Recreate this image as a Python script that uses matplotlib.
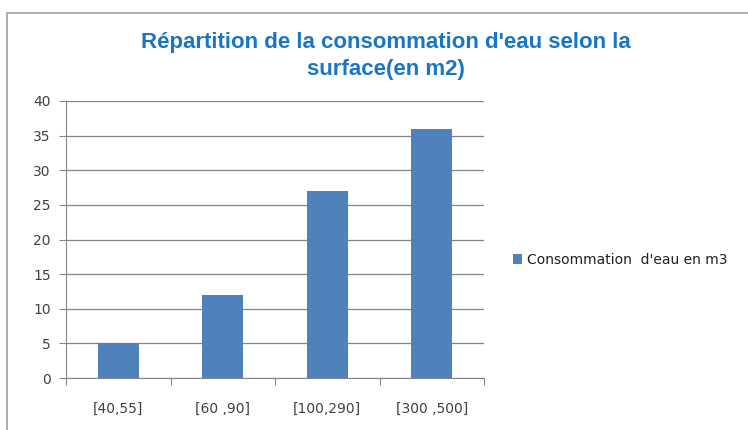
import matplotlib.pyplot as plt
import numpy as np
from matplotlib.patches import Rectangle

categories = ['[40,55]', '[60 ,90]', '[100,290]', '[300 ,500]']
values = [5, 12, 27, 36]
series_name = 'Consommation  d\'eau en m3'
title = "Répartition de la consommation d'eau selon la\nsurface(en m2)"

fig = plt.figure(figsize=(7.48, 4.30), dpi=100)
ax = fig.add_axes([66 / 748, 1 - 378 / 430, (484 - 66) / 748, (378 - 101) / 430])

x = np.arange(len(categories))
bars = ax.bar(x, values, width=0.39, color='#4F81BD', zorder=3, label=series_name)

ax.set_xlim(-0.5, len(categories) - 0.5)
ax.set_ylim(0, 40)
ax.set_yticks(range(0, 41, 5))
ax.yaxis.grid(True, color='#868686', linewidth=0.9, zorder=0)

# category labels between boundary ticks, like excel
ax.set_xticks(np.arange(-0.5, len(categories), 1))
ax.set_xticklabels([])
ax.set_xticks(x, minor=True)
ax.set_xticklabels(categories, minor=True)
ax.tick_params(axis='x', which='minor', length=0, pad=17, labelsize=10, labelcolor='#404040')
ax.tick_params(axis='x', which='major', length=5, color='#868686')
ax.tick_params(axis='y', length=5, color='#868686', labelsize=10, labelcolor='#404040', pad=6)

for s in ['top', 'right']:
    ax.spines[s].set_visible(False)
for s in ['left', 'bottom']:
    ax.spines[s].set_color('#868686')

fig.text(386 / 748, 1 - 56 / 430, title, ha='center', va='center', fontsize=16, fontweight='bold',
         color='#1A75C4', family='Liberation Sans', linespacing=1.35)

fig.legend(handles=[bars], labels=[series_name], loc='center left',
           bbox_to_anchor=(500 / 748, 1 - 260 / 430), frameon=False, fontsize=10,
           handlelength=0.7, handleheight=0.7, handletextpad=0.35, labelcolor='#202020')

# chart area border
fig.add_artist(Rectangle((7 / 748, -0.05), 1.2, 1 - 13 / 430 + 0.05, transform=fig.transFigure,
                         fill=False, edgecolor='#A0A0A0', linewidth=1.2))

fig.savefig('out.png', dpi=100)
